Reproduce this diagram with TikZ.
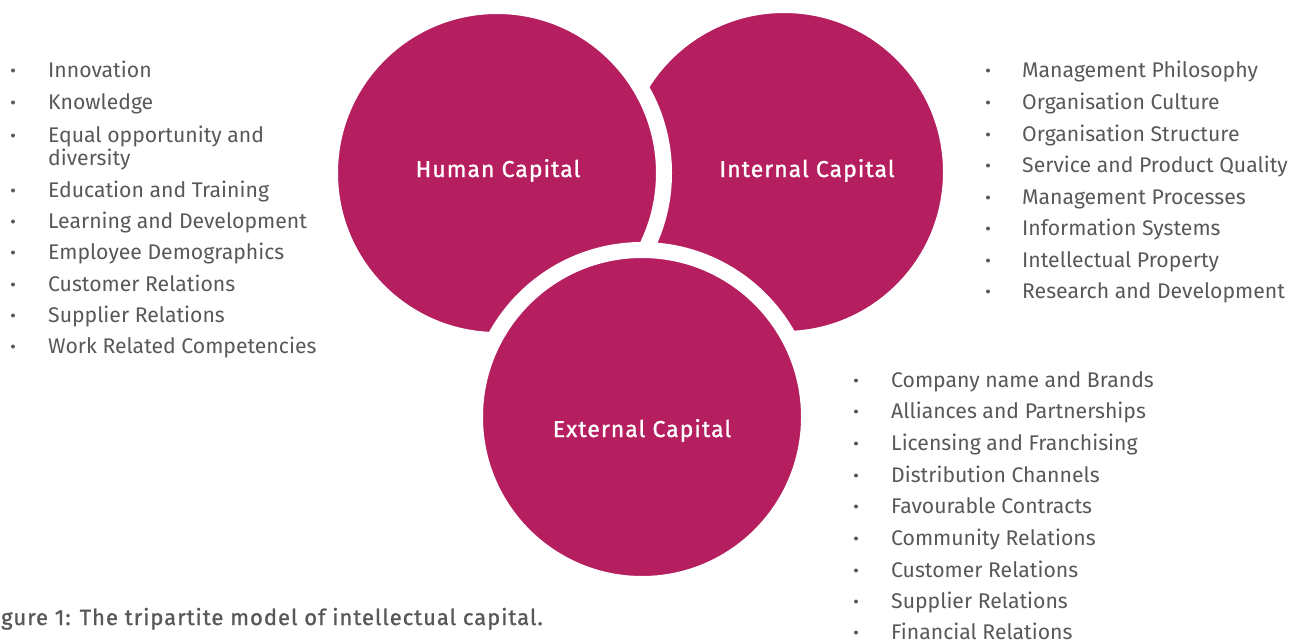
\documentclass[tikz,border=0pt]{standalone}
\usepackage{fontspec}
\setmainfont{Fira Sans}
\newfontfamily\medfont[FakeBold=1.1,LetterSpace=4.5]{Fira Sans}
\definecolor{mag}{RGB}{181,31,96}
\definecolor{txt}{RGB}{88,88,88}
\begin{document}
\begin{tikzpicture}[x=1pt,y=-1pt,
  capcircle/.style={circle, fill=mag, draw=white, line width=16pt, minimum size=334pt, inner sep=0pt},
  caplabel/.style={anchor=base, text=white, font=\medfont\fontsize{23}{26}\selectfont, inner sep=0pt},
  listitem/.style={anchor=base west, text=txt, font=\fontsize{21.2}{24}\selectfont, inner sep=0pt},
  bulletdot/.style={fill=txt}]
\useasboundingbox (0,0) rectangle (1290,640);
% circles (bottom to top)
\node[capcircle] (internal) at (784,172) {};
\node[capcircle] (human) at (497,173) {};
\node[capcircle] (external) at (642,417) {};
\node[caplabel] (humanlab) at (498,177) {Human Capital};
\node[caplabel] (internallab) at (807,177) {Internal Capital};
\node[caplabel] (externallab) at (642,437) {External Capital};
% left list
\foreach \t/\y [count=\i] in {Innovation/77, Knowledge/109, Equal opportunity and/142, Education and Training/197, Learning and Development/228, Employee Demographics/259, Customer Relations/291, Supplier Relations/322, Work Related Competencies/353}{
  \node[listitem] (left\i) at (48,\y) {\t};
  \fill[bulletdot] (13,\y-6.5) circle (2);
}
\node[listitem] (left3b) at (48,165) {diversity};
% right list
\foreach \t/\y [count=\i] in {Management Philosophy/77, Organisation Culture/109, Organisation Structure/141, Service and Product Quality/172, Management Processes/204, Information Systems/235, Intellectual Property/267, Research and Development/298}{
  \node[listitem] (right\i) at (1022,\y) {\t};
  \fill[bulletdot] (988,\y-6.5) circle (2);
}
% bottom list
\foreach \t/\y [count=\i] in {Company name and Brands/387, Alliances and Partnerships/418, Licensing and Franchising/450, Distribution Channels/482, Favourable Contracts/513, Community Relations/545, Customer Relations/577, Supplier Relations/608, Financial Relations/639}{
  \node[listitem] (bottom\i) at (891,\y) {\t};
  \fill[bulletdot] (856,\y-6.5) circle (2);
}
% caption
\node[anchor=base west, inner sep=0pt, text=txt, font=\medfont\fontsize{22}{25}\selectfont] (caption) at (1,625) {gure 1: The tripartite model of intellectual capital.};
\end{tikzpicture}
\end{document}
